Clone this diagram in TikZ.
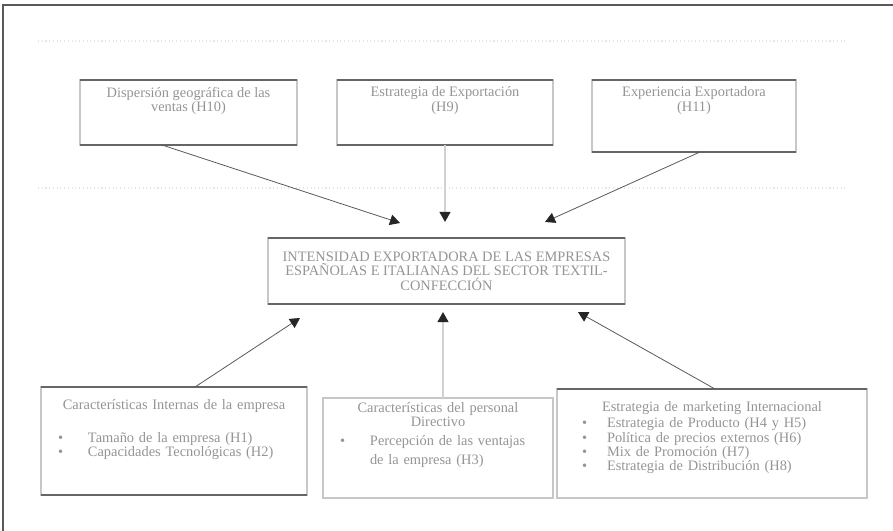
\documentclass[tikz,border=0pt]{standalone}
\usepackage{fontspec}
\setmainfont{Liberation Serif}
\usetikzlibrary{arrows.meta,positioning}
% bullet line: indent, bullet width, text
\newcommand\bul[3]{\par\noindent\hspace*{#1}\makebox[#2][l]{\textbullet}#3}
\begin{document}
\begin{tikzpicture}[x=.75pt,y=-.75pt,>={Triangle[width=8pt,length=7.5pt,color=black!85]},
  box/.style={draw=black!22,line width=.9pt,inner sep=0,outer sep=0},
  rim/.style={draw=black!60,line width=1pt},
  txt/.style={inner sep=0,align=center,text=black!42,font=\fontsize{10.8}{10.8}\selectfont},
  dline/.style={->,draw=black!65,line width=.6pt},
  lline/.style={->,draw=black!18,line width=1.5pt}]
\useasboundingbox (0,0) rectangle (893,531);
\draw[black!65,line width=1.5pt](3,531)--(3,5)--(893,5);
\draw[black!10,dotted,line width=.8pt](38,41)--(845,41);
\draw[black!10,dotted,line width=.8pt](38,188)--(845,188);
% upper boxes
\node[box,minimum width=217*.75pt,minimum height=65*.75pt](b1) at (188.5,112.5){};
\node[box,minimum width=216*.75pt,minimum height=65*.75pt](b2) at (445,112.5){};
\node[box,minimum width=204*.75pt,minimum height=72*.75pt](b3) at (694,116){};
\node[txt,below=5pt of b1.north](t1){Dispersión geográfica de las\\ventas (H10)};
\node[txt,below=5pt of b2.north](t2){Estrategia de Exportación\\(H9)};
\node[txt,below=5pt of b3.north](t3){Experiencia Exportadora\\(H11)};
% central box
\node[box,minimum width=357*.75pt,minimum height=66*.75pt](c) at (446.5,271){};
\node[txt](tc) at (c){INTENSIDAD EXPORTADORA DE LAS EMPRESAS\\ESPAÑOLAS E ITALIANAS DEL SECTOR TEXTIL-\\CONFECCIÓN};
% lower boxes
\node[box,minimum width=266*.75pt,minimum height=108*.75pt](b4) at (174,441){};
\node[box,minimum width=230*.75pt,minimum height=100*.75pt](b5) at (438,448){};
\node[box,minimum width=310*.75pt,minimum height=109*.75pt](b6) at (712,443.5){};
\node[txt,align=left,text width=266*.75pt,below=9pt of b4.north](t4){%
  \centerline{Características Internas de la empresa}\vspace{14pt}
  \bul{12.75pt}{22.5pt}{Tamaño de la empresa (H1)}
  \bul{12.75pt}{22.5pt}{Capacidades Tecnológicas (H2)}};
\node[txt,align=left,text width=230*.75pt,below=3pt of b5.north](t5){%
  \centerline{Características del personal}
  \centerline{Directivo}\vspace{3pt}
  \bul{12.75pt}{22.5pt}{Percepción de las ventajas}
  \par\vspace{4pt}\noindent\hspace*{35.25pt}de la empresa (H3)};
\node[txt,align=left,text width=310*.75pt,below=9pt of b6.north](t6){%
  \centerline{Estrategia de marketing Internacional}\vspace{1.5pt}
  \bul{18.75pt}{18.75pt}{Estrategia de Producto (H4 y H5)}
  \bul{18.75pt}{18.75pt}{Política de precios externos (H6)}
  \bul{18.75pt}{18.75pt}{Mix de Promoción (H7)}
  \bul{18.75pt}{18.75pt}{Estrategia de Distribución (H8)}};
% darker top and bottom rims
\foreach \b in {b1,b2,b3,c,b4,b6}
  \draw[rim](\b.north west)--(\b.north east);
\foreach \b in {b1,b2,b3,c,b4}
  \draw[rim](\b.south west)--(\b.south east);
% arrow tips
\coordinate(p1) at (400,223);
\coordinate(p2) at (445,222);
\coordinate(p3) at (545,222);
\coordinate(p4) at (300,318);
\coordinate(p5) at (443,312);
\coordinate(p6) at (578,312);
\draw[dline]([xshift=-19.9pt]b1.south)--(p1);
\draw[lline](b2.south)--(p2);
\draw[dline]([xshift=4.5pt]b3.south)--(p3);
\draw[dline]([xshift=15.75pt]b4.north)--(p4);
\draw[lline]([xshift=3.75pt]b5.north)--(p5);
\draw[dline]([xshift=2.25pt]b6.north)--(p6);
\end{tikzpicture}
\end{document}
